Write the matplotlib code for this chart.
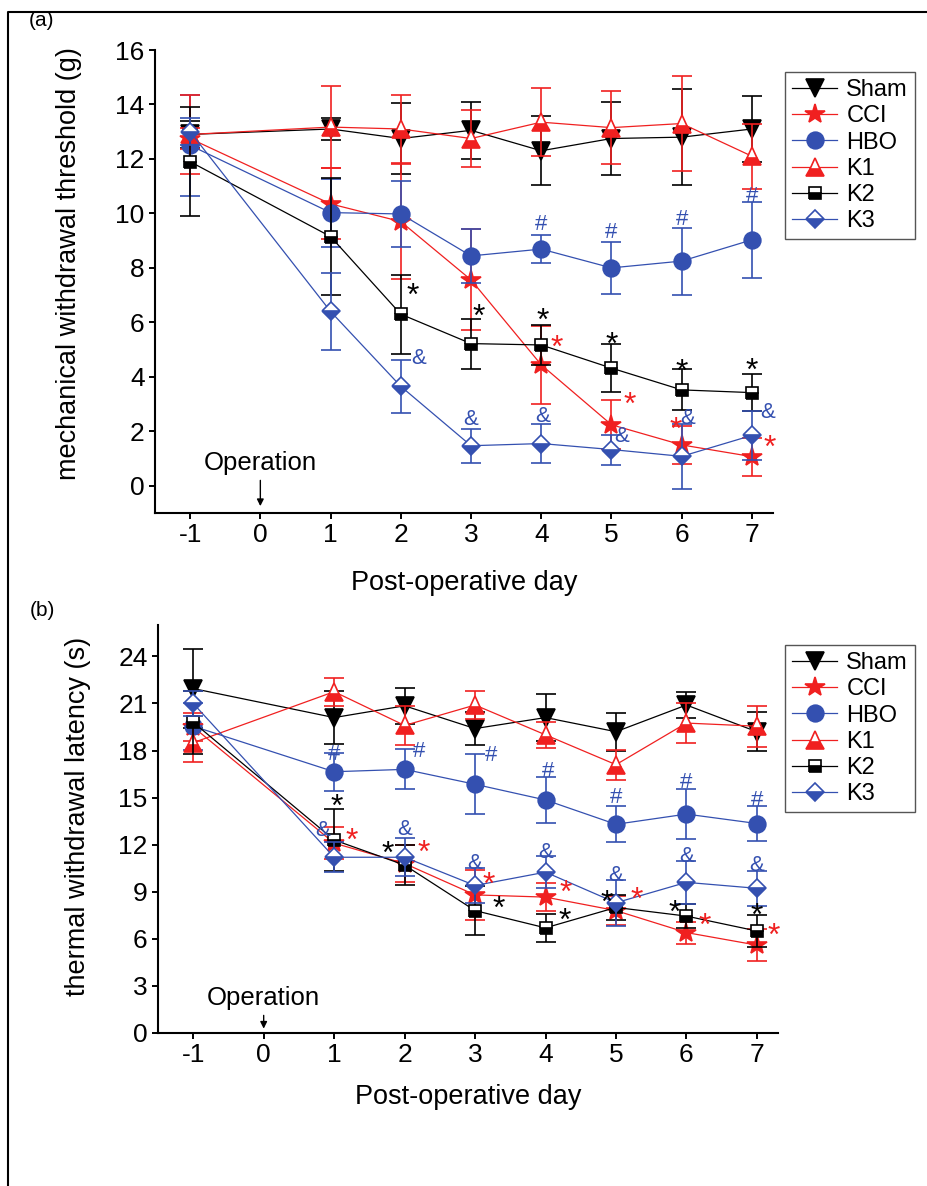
"""Two-panel pain behaviour figure: mechanical threshold and thermal latency."""

import matplotlib
matplotlib.use("Agg")
import matplotlib.pyplot as plt
from matplotlib.lines import Line2D

plt.rcParams["font.family"] = ["Liberation Sans", "DejaVu Sans"]
plt.rcParams["axes.unicode_minus"] = False

RED = "#f02020"
BLUE = "#3450b0"
BLACK = "#000000"

days = [-1, 1, 2, 3, 4, 5, 6, 7]
groups = ["Sham", "CCI", "HBO", "K1", "K2", "K3"]

# panel (a): mechanical withdrawal threshold (g)
sham_a = [12.9, 13.1, 12.75, 13.05, 12.3, 12.75, 12.8, 13.1]
sham_a_err = [0.5, 0.4, 1.3, 1.05, 1.27, 1.35, 1.75, 1.2]
cci_a = [12.75, 10.35, 9.7, 7.56, 4.44, 2.24, 1.5, 1.07]
cci_a_err = [0.4, 1.3, 2.1, 1.85, 1.44, 0.9, 0.7, 0.7]
hbo_a = [12.5, 10.03, 9.98, 8.44, 8.69, 8.0, 8.25, 9.03]
hbo_a_err = [1.85, 1.25, 1.2, 1.0, 0.5, 0.95, 1.23, 1.4]
k1_a = [12.9, 13.17, 13.1, 12.75, 13.35, 13.15, 13.3, 12.1]
k1_a_err = [1.45, 1.5, 1.25, 1.05, 1.25, 1.35, 1.75, 1.2]
k2_a = [11.9, 9.15, 6.3, 5.22, 5.17, 4.32, 3.52, 3.42]
k2_a_err = [2.0, 2.15, 1.45, 0.92, 0.73, 0.87, 0.75, 0.67]
k3_a = [13.0, 6.4, 3.65, 1.47, 1.55, 1.33, 1.08, 1.85]
k3_a_err = [0.5, 1.43, 0.97, 0.63, 0.72, 0.55, 1.2, 0.9]

# panel (b): thermal withdrawal latency (s)
sham_b = [21.95, 20.1, 20.85, 19.4, 20.1, 19.2, 20.9, 19.2]
sham_b_err = [2.5, 1.7, 1.15, 1.05, 1.5, 1.2, 0.8, 1.25]
cci_b = [19.5, 12.1, 10.8, 8.8, 8.66, 7.8, 6.4, 5.6]
cci_b_err = [0.9, 1.0, 1.2, 1.6, 0.9, 0.9, 0.7, 1.0]
hbo_b = [19.55, 16.65, 16.8, 15.85, 14.85, 13.3, 13.95, 13.35]
hbo_b_err = [1.5, 1.2, 1.27, 1.9, 1.45, 1.15, 1.6, 1.1]
k1_b = [18.5, 21.75, 19.6, 20.9, 19.0, 17.1, 19.75, 19.55]
k1_b_err = [1.2, 0.9, 1.25, 0.9, 0.85, 0.95, 1.25, 1.3]
k2_b = [19.8, 12.3, 10.7, 7.8, 6.7, 8.0, 7.45, 6.5]
k2_b_err = [2.0, 1.95, 1.3, 1.55, 0.9, 0.8, 0.75, 1.0]
k3_b = [21.0, 11.2, 11.2, 9.4, 10.25, 8.3, 9.6, 9.22]
k3_b_err = [0.8, 0.95, 1.2, 1.1, 1.0, 1.45, 1.35, 1.1]

# significance marks: (symbol, colour, day, value)
marks_a = [
    ("*", BLACK, 2.17, 7.3), ("&", BLUE, 2.25, 4.73),
    ("*", BLACK, 3.11, 6.53), ("&", BLUE, 3.0, 2.5),
    ("*", BLACK, 4.02, 6.35), ("*", RED, 4.22, 5.39), ("&", BLUE, 4.02, 2.6),
    ("*", BLACK, 5.0, 5.5), ("*", RED, 5.26, 3.3), ("&", BLUE, 5.15, 1.87),
    ("*", BLACK, 6.0, 4.5), ("*", RED, 5.92, 2.35), ("&", BLUE, 6.09, 2.53),
    ("*", BLACK, 7.0, 4.55), ("&", BLUE, 7.23, 2.75), ("*", RED, 7.26, 1.69),
    ("#", BLUE, 4.0, 9.65), ("#", BLUE, 5.0, 9.36),
    ("#", BLUE, 6.0, 9.83), ("#", BLUE, 7.0, 10.68),
]
marks_b = [
    ("*", BLACK, 1.03, 14.95), ("&", BLUE, 0.83, 13.0), ("*", RED, 1.25, 12.76),
    ("*", BLACK, 1.76, 11.96), ("&", BLUE, 2.0, 13.08), ("*", RED, 2.27, 12.0),
    ("&", BLUE, 3.0, 10.9), ("*", RED, 3.19, 9.96), ("*", BLACK, 3.33, 8.47),
    ("&", BLUE, 4.0, 11.64), ("*", RED, 4.29, 9.5), ("*", BLACK, 4.27, 7.72),
    ("&", BLUE, 5.0, 10.15), ("*", RED, 5.29, 9.03), ("*", BLACK, 4.87, 8.84),
    ("&", BLUE, 6.0, 11.36), ("*", BLACK, 5.84, 8.19), ("*", RED, 6.26, 7.35),
    ("&", BLUE, 7.0, 10.8), ("*", BLACK, 7.0, 8.0), ("*", RED, 7.24, 6.73),
    ("#", BLUE, 1.0, 17.88), ("#", BLUE, 2.2, 18.06), ("#", BLUE, 3.23, 17.78),
    ("#", BLUE, 4.03, 16.76), ("#", BLUE, 5.0, 15.1), ("#", BLUE, 6.0, 16.1),
    ("#", BLUE, 7.0, 14.9),
]

STYLES = {
    "Sham": dict(color=BLACK, marker="v", ms=12.5, mfc=BLACK, mec=BLACK),
    "CCI": dict(color=RED, marker="*", ms=15, mfc=RED, mec=RED),
    "HBO": dict(color=BLUE, marker="o", ms=12, mfc=BLUE, mec=BLUE),
    "K1": dict(color=RED, marker="^", ms=12.5, mfc=RED, mec=RED,
               fillstyle="bottom", markerfacecoloralt="white"),
    "K2": dict(color=BLACK, marker="s", ms=9, mfc=BLACK, mec=BLACK,
               fillstyle="bottom", markerfacecoloralt="white"),
    "K3": dict(color=BLUE, marker="D", ms=9.5, mfc=BLUE, mec=BLUE,
               fillstyle="bottom", markerfacecoloralt="white"),
}


def draw_panel(ax, series, marks, ylim, yticks, ylabel, xpad, ylab_xy):
    for name, (vals, errs) in zip(groups, series):
        st = STYLES[name]
        ax.errorbar(days, vals, yerr=errs, fmt="none", ecolor=st["color"],
                    elinewidth=1.2, capsize=7.5, capthick=1.2)
        ax.plot(days, vals, lw=0.9, mew=1.2, label=name, **st)

    for sym, col, x, y in marks:
        # shift so the glyph itself, not its text box, sits on (x, y)
        size = 23 if sym == "*" else 16
        shift = -0.3 * size if sym == "*" else -0.08 * size
        ax.annotate(sym, (x, y), xytext=(0, shift), textcoords="offset points",
                    color=col, fontsize=size, ha="center", va="center")

    ax.set_xlim(-1.5, 7.3)
    ax.set_ylim(*ylim)
    ax.set_xticks(range(-1, 8))
    ax.set_yticks(yticks)
    ax.spines["top"].set_visible(False)
    ax.spines["right"].set_visible(False)
    for s in ("left", "bottom"):
        ax.spines[s].set_linewidth(1.5)
    ax.tick_params(direction="out", length=4.5, width=1.4, labelsize=19, pad=3)
    ax.set_xlabel("Post-operative day", fontsize=19.5, labelpad=xpad)
    ax.set_ylabel(ylabel, fontsize=19.5)
    ax.yaxis.set_label_coords(*ylab_xy)


fig = plt.figure(figsize=(9.27, 11.86), dpi=100)
W, H = 927, 1186

ax_a = fig.add_axes([155 / W, 1 - 513 / H, (773 - 155) / W, (513 - 50) / H])
draw_panel(
    ax_a,
    [(sham_a, sham_a_err), (cci_a, cci_a_err), (hbo_a, hbo_a_err),
     (k1_a, k1_a_err), (k2_a, k2_a_err), (k3_a, k3_a_err)],
    marks_a, (-1, 16), range(0, 17, 2), "mechanical withdrawal threshold (g)",
    xpad=16, ylab_xy=(-0.118, 0.538),
)
ax_a.text(0, 0.85, "Operation", fontsize=18.5, ha="center", va="center")
ax_a.annotate("", xy=(0, -0.85), xytext=(0, 0.3),
              arrowprops=dict(arrowstyle="-|>", lw=1, color="black",
                              mutation_scale=10))

ax_b = fig.add_axes([158 / W, 1 - 1033 / H, (778 - 158) / W, (1033 - 625) / H])
draw_panel(
    ax_b,
    [(sham_b, sham_b_err), (cci_b, cci_b_err), (hbo_b, hbo_b_err),
     (k1_b, k1_b_err), (k2_b, k2_b_err), (k3_b, k3_b_err)],
    marks_b, (0, 26), range(0, 25, 3), "thermal withdrawal latency (s)",
    xpad=12, ylab_xy=(-0.108, 0.53),
)
ax_b.text(0, 2.2, "Operation", fontsize=18.5, ha="center", va="center")
ax_b.annotate("", xy=(0, 0.1), xytext=(0, 1.3),
              arrowprops=dict(arrowstyle="-|>", lw=1, color="black",
                              mutation_scale=10))

for ax, top in ((ax_a, 72), (ax_b, 645)):
    ax.legend(loc="upper left", bbox_to_anchor=(785 / W, 1 - top / H),
              bbox_transform=fig.transFigure, fontsize=17, fancybox=False,
              edgecolor="#555555", framealpha=1, borderaxespad=0,
              borderpad=0.3, labelspacing=0.18, handlelength=1.9,
              handletextpad=0.4)

fig.text(42 / W, 1 - 21 / H, "(a)", fontsize=15, ha="center", va="center")
fig.text(42 / W, 1 - 610 / H, "(b)", fontsize=15, ha="center", va="center")

# outer frame of the figure (left and top edges)
fig.add_artist(Line2D([8 / W, 8 / W, 1], [0, 1 - 12 / H, 1 - 12 / H],
                      transform=fig.transFigure, color="black", lw=1.5))

fig.savefig("out.png", dpi=100)
